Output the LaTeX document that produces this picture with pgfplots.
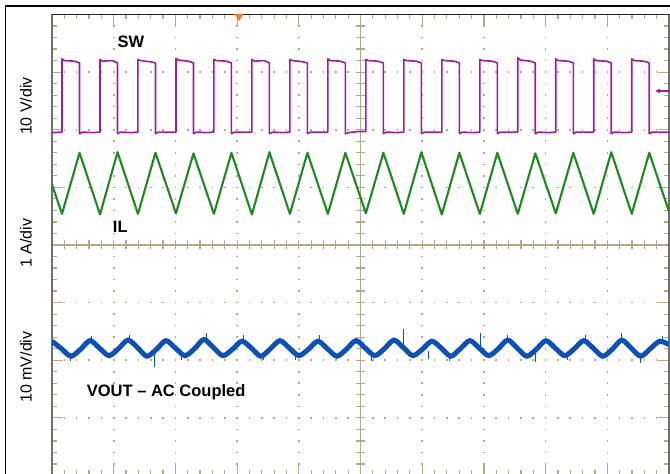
\documentclass[border=0pt]{standalone}
\usepackage{pgfplots}
\pgfplotsset{compat=1.18}
\usepackage{fontspec}
\setmainfont{Liberation Sans}
\usetikzlibrary{arrows.meta}
\definecolor{gridc}{RGB}{178,170,142}
\definecolor{swc}{RGB}{158,28,158}
\definecolor{ilc}{RGB}{28,138,28}
\definecolor{voc}{RGB}{12,82,182}
\definecolor{bordc}{RGB}{112,112,104}
\definecolor{trigc}{RGB}{255,122,40}

\pgfplotstableread{
x y
0.000 5.95
0.162 5.96
0.162 7.23
0.202 7.20
0.362 7.19
0.446 7.16
0.446 5.93
0.496 5.96
0.666 5.95
0.778 5.96
0.778 7.22
0.818 7.19
0.978 7.20
1.062 7.16
1.062 5.93
1.112 5.96
1.282 5.95
1.393 5.96
1.393 7.22
1.433 7.20
1.593 7.18
1.677 7.16
1.677 5.93
1.727 5.96
1.897 5.96
2.009 5.96
2.009 7.24
2.049 7.21
2.209 7.19
2.293 7.16
2.293 5.93
2.343 5.96
2.513 5.95
2.624 5.96
2.624 7.22
2.664 7.20
2.824 7.19
2.908 7.16
2.908 5.93
2.958 5.96
3.128 5.96
3.240 5.96
3.240 7.22
3.280 7.19
3.440 7.20
3.524 7.16
3.524 5.93
3.574 5.96
3.744 5.95
3.856 5.96
3.856 7.22
3.896 7.20
4.056 7.18
4.140 7.16
4.140 5.93
4.190 5.96
4.360 5.96
4.471 5.96
4.471 7.23
4.511 7.20
4.671 7.19
4.755 7.16
4.755 5.93
4.805 5.95
4.975 5.97
5.087 5.97
5.087 7.22
5.127 7.20
5.287 7.19
5.371 7.16
5.371 5.93
5.421 5.96
5.591 5.95
5.702 5.96
5.702 7.22
5.742 7.20
5.902 7.19
5.986 7.16
5.986 5.93
6.036 5.96
6.206 5.96
6.318 5.96
6.318 7.22
6.358 7.20
6.518 7.19
6.602 7.16
6.602 5.93
6.652 5.96
6.822 5.95
6.934 5.96
6.934 7.22
6.974 7.20
7.134 7.19
7.218 7.16
7.218 5.93
7.268 5.96
7.438 5.96
7.549 5.96
7.549 7.25
7.589 7.21
7.749 7.19
7.833 7.16
7.833 5.93
7.883 5.96
8.053 5.95
8.165 5.96
8.165 7.23
8.205 7.20
8.365 7.19
8.449 7.16
8.449 5.93
8.499 5.96
8.669 5.96
8.780 5.96
8.780 7.23
8.820 7.20
8.980 7.19
9.064 7.16
9.064 5.93
9.114 5.96
9.284 5.95
9.396 5.96
9.396 7.23
9.436 7.20
9.596 7.19
9.680 7.16
9.680 5.93
9.730 5.96
10.000 5.96
}\swdata

\pgfplotstableread{
x y
0.000 5.05
0.162 4.54
0.446 5.60
0.778 4.53
1.062 5.61
1.393 4.54
1.677 5.60
2.009 4.55
2.293 5.59
2.624 4.54
2.908 5.60
3.240 4.53
3.524 5.61
3.856 4.54
4.140 5.60
4.471 4.54
4.755 5.60
5.087 4.55
5.371 5.60
5.702 4.54
5.986 5.61
6.318 4.53
6.602 5.60
6.934 4.54
7.218 5.60
7.549 4.54
7.833 5.59
8.165 4.55
8.449 5.60
8.780 4.54
9.064 5.61
9.396 4.54
9.680 5.60
10.000 4.58
}\ildata

\pgfplotstableread{
x y
0.000 2.33
0.154 2.20
0.308 2.07
0.462 2.19
0.616 2.34
0.770 2.21
0.923 2.08
1.077 2.20
1.231 2.35
1.385 2.22
1.539 2.07
1.693 2.19
1.847 2.34
2.001 2.21
2.155 2.08
2.309 2.20
2.462 2.36
2.616 2.22
2.770 2.08
2.924 2.19
3.078 2.33
3.232 2.21
3.386 2.07
3.540 2.20
3.694 2.34
3.848 2.21
4.001 2.08
4.155 2.19
4.309 2.33
4.463 2.20
4.617 2.07
4.771 2.19
4.925 2.34
5.079 2.21
5.233 2.08
5.387 2.20
5.540 2.35
5.694 2.22
5.848 2.08
6.002 2.19
6.156 2.33
6.310 2.21
6.464 2.07
6.618 2.20
6.772 2.34
6.926 2.21
7.079 2.08
7.233 2.20
7.387 2.35
7.541 2.21
7.695 2.07
7.849 2.19
8.003 2.34
8.157 2.21
8.311 2.08
8.465 2.20
8.618 2.34
8.772 2.21
8.926 2.07
9.080 2.19
9.234 2.35
9.388 2.21
9.542 2.07
9.696 2.20
9.850 2.33
10.000 2.27
}\vodata

% short noise spikes on VOUT: x, y from, y to
\pgfplotstableread{
x y
0.300 2.12
0.300 1.99
nan nan
0.640 2.30
0.640 2.42
nan nan
1.250 2.30
1.250 2.44
nan nan
1.669 2.10
1.669 1.89
nan nan
2.100 2.12
2.100 2.00
nan nan
2.507 2.30
2.507 2.47
nan nan
3.100 2.30
3.100 2.43
nan nan
3.420 2.12
3.420 2.00
nan nan
3.950 2.14
3.950 2.01
nan nan
4.330 2.30
4.330 2.43
nan nan
5.180 2.12
5.180 1.98
nan nan
5.694 2.25
5.694 2.54
nan nan
6.100 2.16
6.100 2.02
nan nan
6.450 2.12
6.450 1.99
nan nan
6.937 2.25
6.937 2.48
nan nan
7.380 2.30
7.380 2.44
nan nan
7.830 2.12
7.830 1.97
nan nan
8.350 2.12
8.350 2.00
nan nan
8.640 2.30
8.640 2.43
nan nan
9.233 2.35
9.233 2.48
nan nan
9.530 2.10
9.530 1.95
nan nan
9.900 2.30
9.900 2.42
}\spikes

\begin{document}
\begin{tikzpicture}[x=1pt,y=1pt]
\useasboundingbox (0,0) rectangle (670,474);
\draw[black, line width=1.3pt] (5.7,-3) -- (5.7,468) -- (673,468);

% centre cross-hair with ticks
\begin{axis}[
  at={(52pt,-1.5pt)}, anchor=south west,
  scale only axis, width=617pt, height=461pt,
  xmin=-5, xmax=5, ymin=-4, ymax=4,
  axis lines=middle,
  axis line style={gridc, line width=1.5pt, -},
  every inner x axis line/.append style={-},
  every inner y axis line/.append style={-},
  xtick distance=0.2, ytick distance=0.2,
  xticklabels={}, yticklabels={},
  tick align=center,
  major tick length=9pt,
  tick style={gridc, line width=1.2pt},
]
\end{axis}

\begin{axis}[
  at={(52pt,-1.5pt)}, anchor=south west,
  scale only axis, width=617pt, height=461pt,
  xmin=0, xmax=10, ymin=0, ymax=8,
  xtick={0,...,10}, ytick={0,...,8},
  minor x tick num=4, minor y tick num=4,
  xticklabels={}, yticklabels={},
  tick pos=both, tick align=inside,
  major tick length=11pt, minor tick length=5pt,
  tick style={gridc, line width=1.2pt},
  grid=major,
  major x grid style={gridc, line width=1.6pt, dash pattern=on 1.6pt off 9.925pt, dash phase=0.8pt},
  major y grid style={gridc, line width=1.6pt, dash pattern=on 1.6pt off 10.74pt, dash phase=0.8pt},
  axis line style={bordc, line width=1.6pt},
  clip mode=individual,
  unbounded coords=jump,
]
\addplot[swc, line width=1.6pt, line join=round] table[x=x,y=y] {\swdata};
\addplot[ilc, line width=2.1pt, line join=round] table[x=x,y=y] {\ildata};
\addplot[voc, line width=5pt, smooth] table[x=x,y=y] {\vodata};
\addplot[voc, line width=1pt] table[x=x,y=y] {\spikes};
% top border and markers
\draw[black!85, line width=1.6pt] (rel axis cs:0,1) -- (rel axis cs:1,1);
\fill[trigc] (axis cs:3.03,8) +(-4.5pt,0.3pt) -- +(4.5pt,0.3pt) -- +(0pt,-6.5pt) -- cycle;
\draw[swc, line width=1.2pt, -{Latex[length=5pt,width=5pt]}] (axis cs:10.05,6.672) -- (axis cs:9.77,6.672);
\end{axis}

\node[anchor=base, font=\fontsize{16.5}{18}\selectfont\bfseries] at (131,426) {SW};
\node[anchor=base, font=\fontsize{16.5}{18}\selectfont\bfseries] at (120.3,241.3) {IL};
\node[anchor=base west, inner sep=0pt, font=\fontsize{16.5}{18}\selectfont\bfseries] at (86.7,77.1) {VOUT – AC Coupled};
\node[rotate=90, anchor=base, font=\fontsize{16}{18}\selectfont] at (31.5,368) {10 V/div};
\node[rotate=90, anchor=base, font=\fontsize{16}{18}\selectfont] at (31.5,231) {1 A/div};
\node[rotate=90, anchor=base, font=\fontsize{16}{18}\selectfont] at (31.5,107) {10 mV/div};
\end{tikzpicture}
\end{document}
